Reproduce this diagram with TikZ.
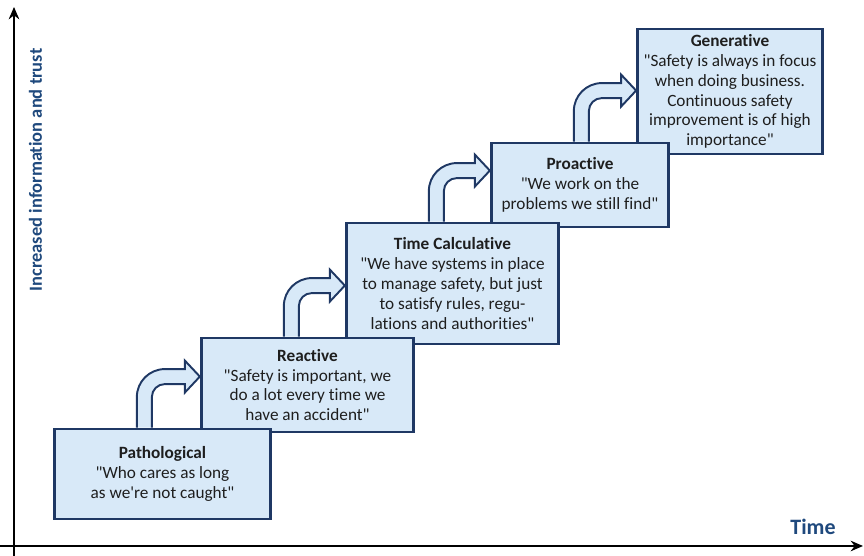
\documentclass[tikz,border=0pt]{standalone}
\usepackage{fontspec}
\setmainfont{Carlito}[Ligatures={TeXOff,NoCommon}]
\usetikzlibrary{arrows.meta,calc}

\definecolor{navy}{HTML}{1F3864}
\definecolor{paleblue}{HTML}{D8E9F8}
\definecolor{labelblue}{HTML}{1F497D}
\definecolor{bodytext}{HTML}{1E1E1E}

% bent block arrow from the top of one stage to the left side of the next
\newcommand{\stairlink}[2]{%
  \coordinate (a1) at ($(#1.north west)+(1.68,0)$);
  \coordinate (a2) at ($(a1)+(0.3,0)$);
  \coordinate (tip) at ($(#2.west |- #1.north)+(0,1.02)$);
  \filldraw[stairarrow] (a1) -- ($(a1 |- tip)+(0,-0.41)$)
    arc[start angle=180,end angle=90,radius=0.56]
    -- ($(tip)+(-0.3,0.15)$) -- ($(tip)+(-0.3,0.32)$) -- (tip)
    -- ($(tip)+(-0.3,-0.32)$) -- ($(tip)+(-0.3,-0.15)$)
    -- ($(a2 |- tip)+(0.26,-0.15)$)
    arc[start angle=90,end angle=180,radius=0.26] -- (a2);
}

\begin{document}
\begin{tikzpicture}[
  stage/.style={draw=navy,line width=1.6pt,fill=paleblue,align=center,
    text=bodytext,inner sep=2pt,font=\fontsize{9.8}{11.3}\selectfont},
  stairarrow/.style={draw=navy,line width=1.1pt,fill=paleblue,line join=miter},
  axis/.style={-{Stealth[length=7pt,width=6pt]},line width=1.1pt,black},
  axislabel/.style={text=labelblue,font=\bfseries}
]
\useasboundingbox (0,0) rectangle (17.28,11.12);

\node[stage,minimum width=3.7cm,minimum height=2.5cm] (generative) at (14.6,9.29)
  {\textbf{Generative}\\"Safety is always in focus\\when doing business.\\Continuous safety\\improvement is of high\\importance"};
\node[stage,minimum width=3.55cm,minimum height=1.68cm] (proactive) at (11.6,7.42)
  {\textbf{Proactive}\\"We work on the\\problems we still find"};
\node[stage,minimum width=4.25cm,minimum height=2.42cm] (timecalc) at (9.05,5.45)
  {\textbf{Time Calculative}\\"We have systems in place\\to manage safety, but just\\to satisfy rules, regu-\\lations and authorities"};
\node[stage,minimum width=4.25cm,minimum height=1.88cm] (reactive) at (6.15,3.42)
  {\textbf{Reactive}\\"Safety is important, we\\do a lot every time we\\have an accident"};
\node[stage,minimum width=4.33cm,minimum height=1.8cm] (patho) at (3.25,1.64)
  {\textbf{Pathological}\\"Who cares as long\\as we're not caught"};

\stairlink{patho}{reactive}
\stairlink{reactive}{timecalc}
\stairlink{timecalc}{proactive}
\stairlink{proactive}{generative}

\coordinate (ybot) at (0.28,0);
\coordinate (ytop) at (0.28,10.98);
\coordinate (xleft) at (0,0.2);
\coordinate (xright) at (17.26,0.2);
\draw[axis] (ybot) -- (ytop);
\draw[axis] (xleft) -- (xright);
\node[axislabel,rotate=90,font=\bfseries\fontsize{10.5}{12}\selectfont] (ylabel) at (0.71,7.72)
  {Increased information and trust};
\node[axislabel,font=\bfseries\fontsize{12.5}{14}\selectfont] (xlabel) at (16.26,0.58) {Time};
\end{tikzpicture}
\end{document}
